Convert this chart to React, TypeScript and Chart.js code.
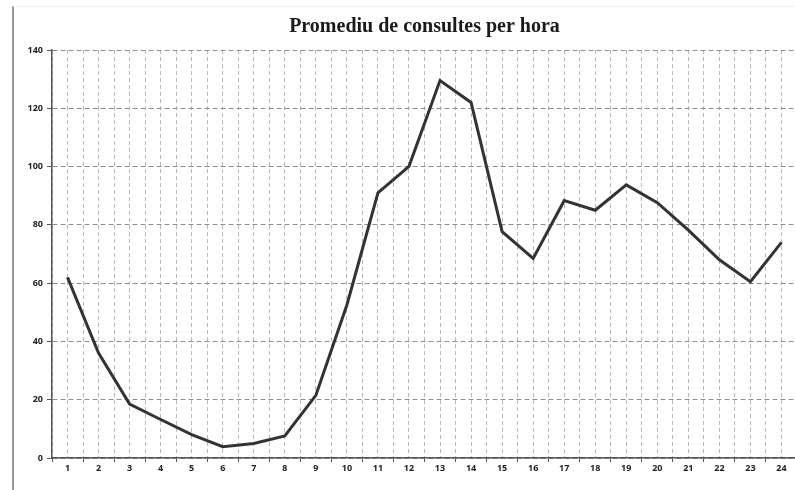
import React, { useEffect, useRef } from "react";
import { Chart, registerables } from "chart.js";

Chart.register(...registerables);

const TITLE = "Promediu de consultes per hora";
const hours = [1, 2, 3, 4, 5, 6, 7, 8, 9, 10, 11, 12, 13, 14, 15, 16, 17, 18, 19, 20, 21, 22, 23, 24];
const consultes = [62, 36, 18.5, 13.2, 8, 3.9, 5, 7.6, 21.5, 52.5, 91, 100.1, 129.5, 122, 77.7, 68.5, 88.3, 85, 93.7, 87.6, 78.2, 68, 60.5, 74];
const yTicks = [0, 20, 40, 60, 80, 100, 120, 140];

export default function App() {
  const ref = useRef<HTMLCanvasElement>(null);
  useEffect(() => {
    if (!ref.current) return;
    const chart = new Chart(ref.current, {
      type: "line",
      data: {
        datasets: [
          {
            data: hours.map((h, i) => ({ x: h, y: consultes[i] })),
            borderColor: "#333333",
            borderWidth: 3,
            pointRadius: 0,
            tension: 0,
            fill: false,
          },
        ],
      },
      options: {
        animation: false,
        responsive: false,
        layout: { padding: { top: 6, right: 3, left: 0, bottom: 0 } },
        plugins: {
          legend: { display: false },
          tooltip: { enabled: false },
          title: {
            display: true,
            text: TITLE,
            fullSize: false,
            color: "#1a1a1a",
            font: { family: "'Liberation Serif', 'Times New Roman', serif", size: 20, weight: "bold" },
            padding: { top: 9, bottom: 11 },
          },
        },
        scales: {
          x: {
            type: "linear",
            min: 0.5,
            max: 24.5,
            afterFit: (s: any) => {
              s.height = 32;
            },
            afterBuildTicks: (s: any) => {
              const t = [];
              for (let i = 0; i <= 48; i++) t.push({ value: 0.5 + i * 0.5 });
              s.ticks = t;
            },
            ticks: {
              autoSkip: false,
              maxRotation: 0,
              padding: 1,
              color: "#222",
              font: { family: "'Open Sans', 'Liberation Sans', sans-serif", size: 9, weight: "bold" },
              callback: (v: any) => (Number.isInteger(v) && hours.includes(v) ? String(v) : ""),
            },
            grid: {
              color: "#b8b8b8",
              lineWidth: 1,
              tickLength: 4,
              tickColor: (c: any) => (c.tick && !Number.isInteger(c.tick.value) ? "#555" : "rgba(0,0,0,0)"),
              tickBorderDash: [],
            },
            border: { display: true, color: "#555", width: 1.5, dash: [4, 3] },
          },
          y: {
            min: 0,
            max: 140,
            afterFit: (s: any) => {
              s.width = 52;
            },
            afterBuildTicks: (s: any) => {
              s.ticks = yTicks.map((v) => ({ value: v }));
            },
            ticks: {
              padding: 4,
              color: "#222",
              font: { family: "'Open Sans', 'Liberation Sans', sans-serif", size: 9, weight: "bold" },
            },
            grid: {
              color: "#8c8c8c",
              lineWidth: 1,
              tickLength: 5,
              tickColor: "#555",
              tickBorderDash: [],
            },
            border: { display: true, color: "#555", width: 1.5, dash: [5, 3] },
          },
        },
      },
    } as any);
    return () => chart.destroy();
  }, []);

  return (
    <div style={{ position: "fixed", left: 0, top: 0, width: 795, height: 490, overflow: "hidden", background: "#fff" }}>
      <div
        style={{
          position: "absolute",
          left: 12,
          top: 6,
          width: 783,
          height: 484,
          borderLeft: "2px solid #9a9a9a",
          borderTop: "1px solid #f0f0f0",
          boxSizing: "border-box",
        }}
      />
      <canvas ref={ref} width={800} height={490} style={{ position: "absolute", left: 0, top: 0, width: 800, height: 490 }} />
    </div>
  );
}
